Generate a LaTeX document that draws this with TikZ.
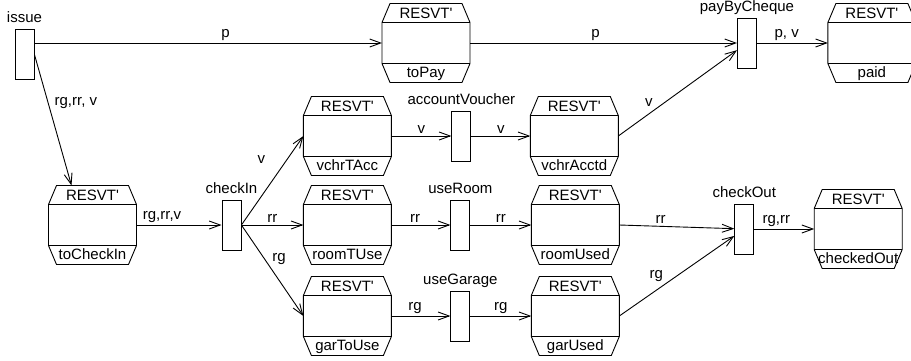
\documentclass[tikz,border=0pt]{standalone}
\usepackage{fontspec}
\setmainfont{Liberation Sans}
\usetikzlibrary{arrows.meta,positioning}

\begin{document}
\begin{tikzpicture}[
    x=1pt, y=1pt,
    font=\fontsize{15pt}{17pt}\selectfont,
    line width=0.9pt,
    trans/.style={draw, minimum width=19pt, minimum height=50pt, inner sep=0pt,
      label={[label distance=6pt, inner sep=0pt, text depth=0pt]above:#1}},
    place/.style={minimum width=88pt, minimum height=79pt, inner sep=0pt, outer sep=0pt,
      label={[anchor=base, label distance=-15pt, inner sep=0pt]north:RESVT\textquotesingle},
      label={[anchor=base, label distance=-5pt, inner sep=0pt]south:#1},
      append after command={\pgfextra{
        \draw ([xshift=8pt]\tikzlastnode.north west) -- ([xshift=-8pt]\tikzlastnode.north east)
          -- ([yshift=-19pt]\tikzlastnode.north east) -- ([yshift=19pt]\tikzlastnode.south east)
          -- ([xshift=-8pt]\tikzlastnode.south east) -- ([xshift=8pt]\tikzlastnode.south west)
          -- ([yshift=19pt]\tikzlastnode.south west) -- ([yshift=-19pt]\tikzlastnode.north west)
          -- cycle
          ([yshift=-19pt]\tikzlastnode.north west) -- ([yshift=-19pt]\tikzlastnode.north east)
          ([yshift=19pt]\tikzlastnode.south west) -- ([yshift=19pt]\tikzlastnode.south east);}}},
    arc/.style={-{Straight Barb[length=11pt, width=8pt]}},
    lbl/.style={inner sep=2pt}
  ]
    \useasboundingbox (0,0) rectangle (911,-360);

    % top row
    \node[trans=issue] (issue) at (24.5,-54.5) {};
    \node[place=toPay] (toPay) at (426,-43) {};
    \node[trans=payByCheque, right=267pt of toPay] (payByCheque) {};
    \node[place=paid, right=71pt of payByCheque] (paid) {};

    % check in and the three branches
    \node[place=toCheckIn] (toCheckIn) at (92.5,-225) {};
    \node[trans=checkIn, right=85pt of toCheckIn] (checkIn) {};
    \node[place=roomTUse, right=62pt of checkIn] (roomTUse) {};
    \node[place=vchrTAcc, above=10pt of roomTUse] (vchrTAcc) {};
    \node[place=garToUse, below=12pt of roomTUse] (garToUse) {};
    \node[trans=accountVoucher, right=60pt of vchrTAcc] (accountVoucher) {};
    \node[place=vchrAcctd, right=59pt of accountVoucher] (vchrAcctd) {};
    \node[trans=useRoom, right=59pt of roomTUse] (useRoom) {};
    \node[place=roomUsed, right=61pt of useRoom] (roomUsed) {};
    \node[trans=useGarage, right=59pt of garToUse] (useGarage) {};
    \node[place=garUsed, right=61pt of useGarage] (garUsed) {};
    \node[trans=checkOut, right=115pt of roomUsed, yshift=-4pt] (checkOut) {};
    \node[place=checkedOut, right=60pt of checkOut] (checkedOut) {};

    \draw[arc] (issue.east |- toPay.west) -- node[lbl, above, pos=0.55] {p} (toPay.west);
    \draw[arc] (toPay.east) -- node[lbl, above, pos=0.47] {p} (payByCheque);
    \draw[arc] (payByCheque) -- node[lbl, above, pos=0.42] {p, v} (paid.west);
    \draw[arc] (issue.east) -- node[lbl, right=4pt, pos=0.37] {rg,rr, v} ([xshift=-21pt]toCheckIn.north);
    \draw[arc] (toCheckIn.east) -- node[lbl, above, pos=0.3] {rg,rr,v} (checkIn);
    \draw[arc] (checkIn.east) -- node[lbl, left=19pt, pos=0.73] {v} (vchrTAcc.west);
    \draw[arc] (checkIn.east) -- node[lbl, above] {rr} (roomTUse.west);
    \draw[arc] (checkIn.east) -- node[lbl, above right, pos=0.46] {rg} (garToUse.west);
    \draw[arc] (vchrTAcc.east) -- node[lbl, above] {v} (accountVoucher);
    \draw[arc] (accountVoucher) -- node[lbl, above] {v} (vchrAcctd.west);
    \draw[arc] (roomTUse.east) -- node[lbl, above, pos=0.4] {rr} (useRoom);
    \draw[arc] (useRoom) -- node[lbl, above] {rr} (roomUsed.west);
    \draw[arc] (garToUse.east) -- node[lbl, above, pos=0.4] {rg} (useGarage);
    \draw[arc] (useGarage) -- node[lbl, above] {rg} (garUsed.west);
    \draw[arc] (vchrAcctd.east) -- node[lbl, above left, pos=0.31] {v} (payByCheque);
    \draw[arc] (roomUsed.east) -- node[lbl, above, pos=0.36] {rr} (checkOut);
    \draw[arc] (garUsed.east) -- node[lbl, above left, pos=0.4] {rg} (checkOut);
    \draw[arc] (checkOut) -- node[lbl, above, pos=0.37] {rg,rr} (checkedOut.west);
\end{tikzpicture}
\end{document}
